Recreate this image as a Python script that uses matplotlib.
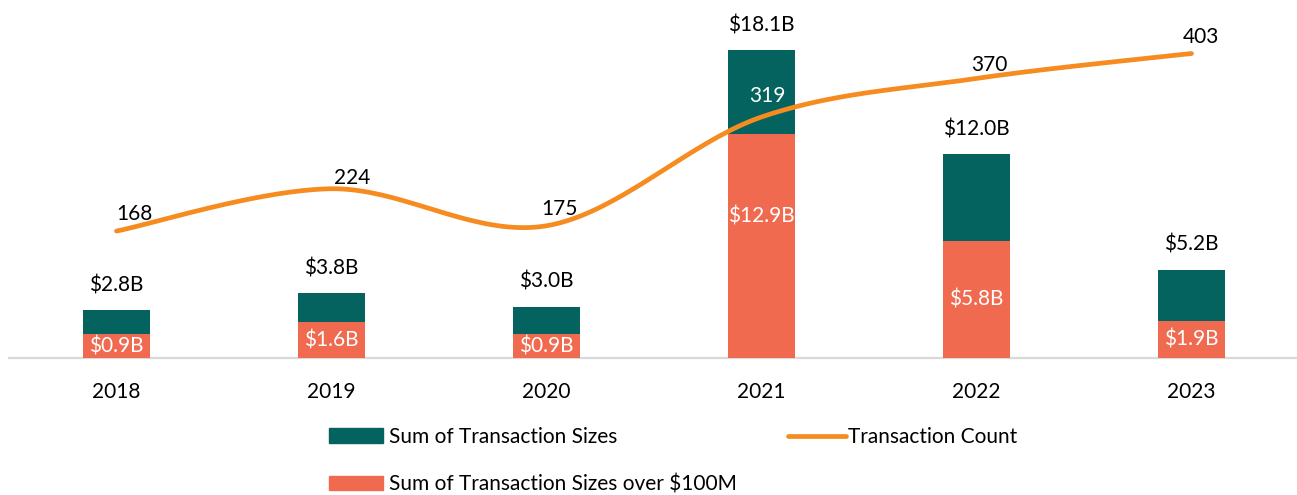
import numpy as np
import matplotlib.pyplot as plt
from matplotlib.patches import Patch
from matplotlib.lines import Line2D

plt.rcParams['font.family'] = ['Lato', 'DejaVu Sans']

# data
years = ['2018', '2019', '2020', '2021', '2022', '2023']
total_size = [2.8, 3.8, 3.0, 18.1, 12.0, 5.2]          # $B, green bars
over_100m = [1.4, 2.1, 1.4, 13.2, 6.9, 2.2]            # $B, coral bars (as drawn)
over_100m_labels = ['$0.9B', '$1.6B', '$0.9B', '$12.9B', '$5.8B', '$1.9B']
tx_count = [168, 224, 175, 319, 370, 403]

GREEN = '#04625F'
CORAL = '#F06A50'
LINE = '#F68B20'

fig = plt.figure(figsize=(12.97, 4.95), dpi=100)
ax = fig.add_axes([9 / 1297, 1 - 358 / 495, 1290 / 1297, 340 / 495])
ax2 = ax.twinx()

x = np.arange(len(years))
w = 0.31
ax.bar(x, total_size, width=w, color=GREEN, zorder=2)
ax.bar(x, over_100m, width=w, color=CORAL, zorder=3)

ax.set_xlim(-0.5, 5.5)
ax.set_ylim(0, 20)
ax2.set_ylim(0, 450)

for a in (ax, ax2):
    for s in ('top', 'right', 'left'):
        a.spines[s].set_visible(False)
    a.set_yticks([])
ax2.spines['bottom'].set_visible(False)
ax.spines['bottom'].set_color('#D9D9D9')
ax.spines['bottom'].set_linewidth(1.6)
ax.spines['bottom'].set_zorder(1)
ax.set_xticks(x)
ax.set_xticklabels(years, fontsize=15)
ax.tick_params(axis='x', length=0, pad=17)

# total labels above the green bars
for xi, v in zip(x, total_size):
    ax.annotate(f'${v:.1f}B', (xi, v), xytext=(0, 18), textcoords='offset points',
                ha='center', va='center', fontsize=15, color='black')

# white labels inside the coral bars
lift = [0, 0, 0, 21, 0, 0]
for xi, v, lab, dy in zip(x, over_100m, over_100m_labels, lift):
    ax.annotate(lab, (xi, v / 2), xytext=(0, dy), textcoords='offset points',
                ha='center', va='center', fontsize=15, color='white', zorder=5)

# smoothed count line (Bezier through the points, like Excel)
fig.canvas.draw()
pts = ax2.transData.transform(np.column_stack([x, tx_count]))
ext = np.vstack([pts[0], pts, pts[-1]])
curve = []
t = np.linspace(0, 1, 40)[:, None]
for i in range(len(pts) - 1):
    p0, p1, p2, p3 = ext[i], ext[i + 1], ext[i + 2], ext[i + 3]
    c1 = p1 + (p2 - p0) / 6
    c2 = p2 - (p3 - p1) / 6
    seg = ((1 - t) ** 3) * p1 + 3 * ((1 - t) ** 2) * t * c1 + 3 * (1 - t) * t ** 2 * c2 + t ** 3 * p2
    curve.append(seg)
curve = ax2.transData.inverted().transform(np.vstack(curve))
ax2.plot(curve[:, 0], curve[:, 1], color=LINE, lw=3.4, solid_capstyle='round', zorder=4)

# count labels
lab_dx = [13, 15, 9, 4, 9, 7]
lab_dy = [12, 8, 12, 15, 10, 12]
for xi, v, dx, dy in zip(x, tx_count, lab_dx, lab_dy):
    col = 'white' if v == 319 else 'black'
    ax2.annotate(str(v), (xi, v), xytext=(dx, dy), textcoords='offset points',
                 ha='center', va='center', fontsize=15, color=col, zorder=6)

# legend
h_green = Patch(color=GREEN)
h_coral = Patch(color=CORAL)
h_line = Line2D([], [], color=LINE, lw=3.4, solid_capstyle='round')
fig.legend([h_green, h_coral], ['Sum of Transaction Sizes', 'Sum of Transaction Sizes over $100M'],
           loc='upper left', bbox_to_anchor=(329 / 1297, 1 - 427 / 495), frameon=False,
           fontsize=15, handlelength=2.6, handleheight=0.7, handletextpad=0.3,
           labelspacing=1.3, borderpad=0, borderaxespad=0)
fig.legend([h_line], ['Transaction Count'],
           loc='upper left', bbox_to_anchor=(788 / 1297, 1 - 427 / 495), frameon=False,
           fontsize=15, handlelength=2.8, handletextpad=0.1, borderpad=0, borderaxespad=0)

fig.savefig('out.png', dpi=100)
